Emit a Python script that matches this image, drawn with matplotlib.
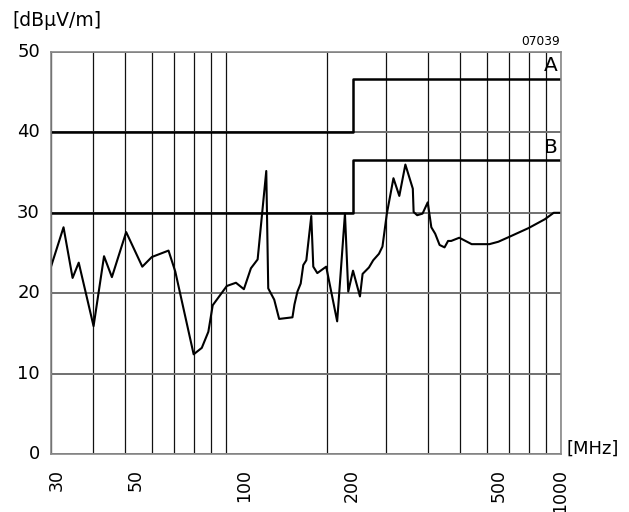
import numpy as np
import matplotlib
matplotlib.use("Agg")
import matplotlib.pyplot as plt
from matplotlib.transforms import ScaledTranslation

plt.rcParams['font.family'] = ['DejaVu Sans']

# measured emission level
freq_mhz = [30, 32.7, 34.8, 36.3, 40.2, 43.2, 45.6, 50.3, 56.2, 60, 67.3, 70.5,
            80, 84.6, 88.5, 91.2, 100.5, 107, 113, 118.6, 124.2, 131.8, 133.6,
            139.2, 144, 157.8, 160, 163.3, 167, 170, 173.6, 179.6, 182.1, 187.2,
            199, 214.6, 226.4, 231.6, 239.3, 251, 255.6, 267, 275, 286, 293,
            302, 316, 329, 343, 361, 363, 372, 386, 400, 410, 421, 434, 449,
            460, 470, 497, 541, 611, 650, 700, 800, 895, 951, 1000]
level_dbuv = [23.3, 28.2, 21.9, 23.8, 15.9, 24.6, 22.0, 27.6, 23.3, 24.5, 25.3, 22.7,
              12.4, 13.2, 15.2, 18.5, 20.9, 21.3, 20.5, 23.1, 24.2, 35.2, 20.6,
              19.2, 16.8, 17.0, 18.6, 20.2, 21.2, 23.5, 24.1, 29.6, 23.3, 22.5,
              23.3, 16.5, 29.9, 20.2, 22.8, 19.6, 22.4, 23.2, 24.1, 24.9, 25.8,
              29.9, 34.3, 32.1, 36.0, 33.0, 30.1, 29.7, 29.9, 31.3, 28.2, 27.4, 26.0, 25.7,
              26.5, 26.5, 26.9, 26.1, 26.1, 26.4, 27.0, 28.1, 29.2, 30.0, 30.0]

# limit lines A and B
limit_freq = [30, 240, 1000]
limit_a = [40, 46.7, 46.7]
limit_b = [30, 36.6, 36.6]

major_ticks = [30, 50, 100, 200, 500, 1000]
major_labels = ['30', '50', '100', '200', '500', '1000']
minor_ticks = [40, 60, 70, 80, 90, 300, 400, 600, 700, 800, 900]
# label shift in pixels
label_shift = [6, 10, 18, 25, 39, -1]

fig = plt.figure(figsize=(6.29, 5.12), dpi=100)
ax = fig.add_axes([51 / 629, 58 / 512, 510 / 629, 402 / 512])

ax.set_xscale('log')
ax.set_xlim(30, 1000)
ax.set_ylim(0, 50)

ax.set_xticks(major_ticks)
ax.set_xticklabels(major_labels, rotation=90, fontsize=12.5)
ax.set_xticks(minor_ticks, minor=True)
ax.xaxis.set_minor_formatter(plt.NullFormatter())
ax.set_yticks([0, 10, 20, 30, 40, 50])
ax.set_yticklabels(['0', '10', '20', '30', '40', '50'], fontsize=13)
ax.tick_params(axis='both', which='both', length=0)
ax.tick_params(axis='x', pad=11)
ax.tick_params(axis='y', pad=8)

for lbl, dx in zip(ax.get_xticklabels(), label_shift):
    lbl.set_transform(lbl.get_transform() + ScaledTranslation(dx / 100, 0, fig.dpi_scale_trans))
for lbl in ax.get_yticklabels():
    lbl.set_transform(lbl.get_transform() + ScaledTranslation(0, 2 / 100, fig.dpi_scale_trans))

ax.grid(True, axis='x', which='both', color='#111111', linewidth=0.9)
ax.grid(True, axis='y', which='major', color='#707070', linewidth=1.4)
ax.set_axisbelow(True)
for s in ax.spines.values():
    s.set_color('#888888')
    s.set_linewidth(1.2)

ax.step(limit_freq, limit_a, where='post', color='black', linewidth=1.8)
ax.step(limit_freq, limit_b, where='post', color='black', linewidth=1.8)
ax.plot(freq_mhz, level_dbuv, color='black', linewidth=1.5)

ax.text(0.993, 48.3, 'A', transform=ax.get_yaxis_transform(), ha='right', va='center', fontsize=14.5)
ax.text(0.993, 38.1, 'B', transform=ax.get_yaxis_transform(), ha='right', va='center', fontsize=14.5)
ax.text(0.998, 1.027, '07039', transform=ax.transAxes, ha='right', va='center', fontsize=8.8)

fig.text(12 / 629, 1 - 21 / 512, '[dB\u03bcV/m]', ha='left', va='center', fontsize=13.5)
fig.text(566 / 629, 1 - 449 / 512, '[MHz]', ha='left', va='center', fontsize=13)

fig.savefig('out.png', dpi=100)
